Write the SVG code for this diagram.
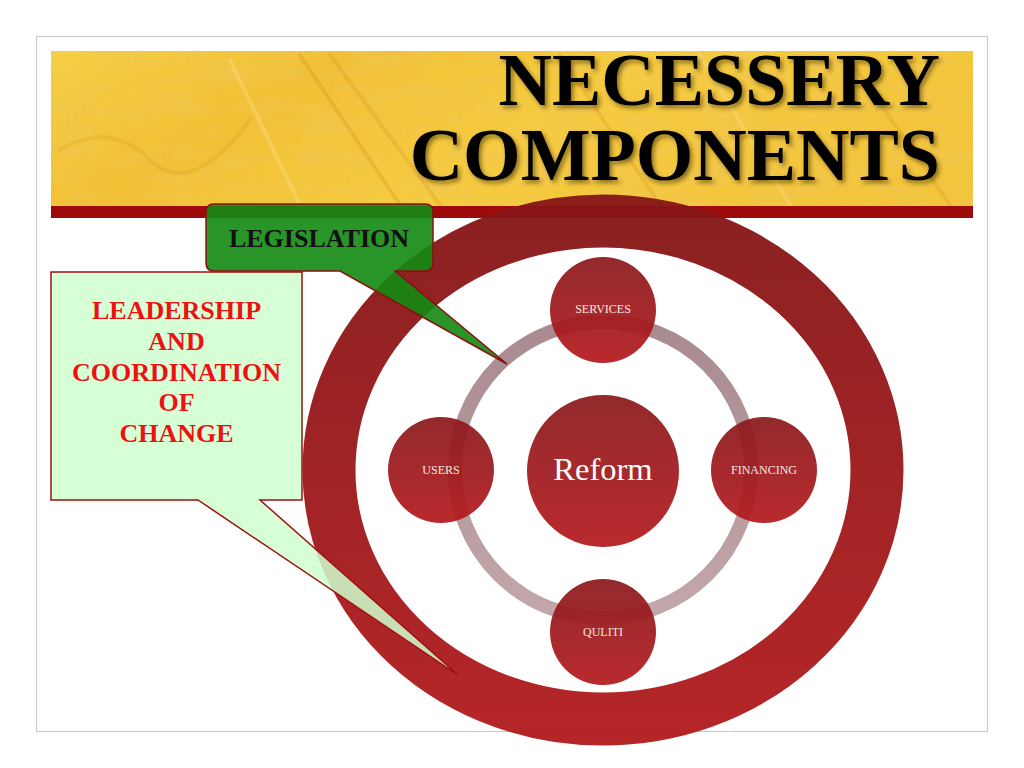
<svg xmlns="http://www.w3.org/2000/svg" width="1024" height="768" viewBox="0 0 1024 768">
  <defs>
    <style>
      .title { font-family: "Liberation Serif", "Times New Roman", serif; font-weight: bold; font-size: 74px; fill: #000; text-anchor: end; }
      .lead { font-family: "Liberation Serif", "Times New Roman", serif; font-weight: bold; font-size: 26px; fill: #ee1111; text-anchor: middle; }
      .leg { font-family: "Liberation Serif", "Times New Roman", serif; font-weight: bold; font-size: 26px; fill: #111; text-anchor: middle; }
      .small { font-family: "Liberation Serif", "Times New Roman", serif; font-size: 12px; fill: #f6e8e0; text-anchor: middle; }
      .big { font-family: "Liberation Serif", "Times New Roman", serif; font-size: 32.5px; fill: #ffffff; text-anchor: middle; }
      .node { fill: url(#nodeGrad); fill-opacity: 0.93; }
    </style>
    <linearGradient id="gold" x1="0" y1="0" x2="1" y2="0.3">
      <stop offset="0" stop-color="#f6cc3e"/>
      <stop offset="0.3" stop-color="#f0bc2c"/>
      <stop offset="0.6" stop-color="#f5c838"/>
      <stop offset="1" stop-color="#f2c234"/>
    </linearGradient>
    <filter id="tex" x="0" y="0" width="1" height="1">
      <feTurbulence type="fractalNoise" baseFrequency="0.02 0.06" numOctaves="3" seed="7" result="n"/>
      <feColorMatrix in="n" type="matrix" values="0 0 0 0 0.86  0 0 0 0 0.55  0 0 0 0 0.08  0 0 0 1.8 -0.75" result="c"/>
      <feComposite in="c" in2="SourceGraphic" operator="in"/>
    </filter>
    <filter id="grain" x="0" y="0" width="1" height="1">
      <feTurbulence type="fractalNoise" baseFrequency="0.9" numOctaves="1" seed="2" result="g"/>
      <feColorMatrix in="g" type="matrix" values="0 0 0 0 1  0 0 0 0 0.92  0 0 0 0 0.45  0 0 0 0.5 -0.1" result="gc"/>
      <feComposite in="gc" in2="SourceGraphic" operator="in"/>
    </filter>
    <filter id="shadow" x="-5%" y="-10%" width="110%" height="130%">
      <feDropShadow dx="2.5" dy="3" stdDeviation="2" flood-color="#3a2a00" flood-opacity="0.55"/>
    </filter>
    <linearGradient id="ringGrad" x1="0" y1="0" x2="0" y2="1">
      <stop offset="0" stop-color="#861516"/>
      <stop offset="1" stop-color="#b01a1c"/>
    </linearGradient>
    <linearGradient id="nodeGrad" x1="0" y1="0" x2="0" y2="1">
      <stop offset="0" stop-color="#8a191c"/>
      <stop offset="1" stop-color="#b41a1e"/>
    </linearGradient>
    <linearGradient id="grayGrad" x1="0" y1="0" x2="0" y2="1">
      <stop offset="0" stop-color="#a88a8f"/>
      <stop offset="1" stop-color="#c2a7ab"/>
    </linearGradient>
  </defs>

  <rect x="0" y="0" width="1024" height="768" fill="#ffffff"/>
  <rect x="36.5" y="36.5" width="951" height="695" fill="#ffffff" stroke="#c8c8c8" stroke-width="1"/>

  <g id="banner">
    <rect x="51" y="51" width="922" height="156" fill="url(#gold)"/>
    <rect x="51" y="51" width="922" height="156" fill="#e8a020" filter="url(#tex)" opacity="0.75"/>
    <rect x="51" y="51" width="922" height="156" fill="#fff" filter="url(#grain)" opacity="0.45"/>
    <g fill="none" stroke-width="4" stroke-linecap="round">
      <path d="M300 55 L400 205" stroke="#d8901c" stroke-opacity="0.3"/>
      <path d="M330 55 L440 205" stroke="#d8901c" stroke-opacity="0.25"/>
      <path d="M230 60 L300 205" stroke="#fbe090" stroke-opacity="0.35"/>
      <path d="M60 150 Q110 120 150 160 T250 120" stroke="#d8901c" stroke-opacity="0.2"/>
      <path d="M560 55 L660 205" stroke="#d8901c" stroke-opacity="0.25"/>
      <path d="M700 55 L790 205" stroke="#fbe090" stroke-opacity="0.3"/>
      <path d="M850 60 L950 205" stroke="#d8901c" stroke-opacity="0.25"/>
    </g>
    <rect x="51" y="206" width="922" height="12" fill="#9c0a0a"/>
    <text class="title" x="940" y="105" filter="url(#shadow)">NECESSERY</text>
    <text class="title" x="940" y="180" filter="url(#shadow)">COMPONENTS</text>
  </g>

  <g id="outer-ring">
    <ellipse cx="603" cy="470" rx="274" ry="249" fill="none" stroke="url(#ringGrad)" stroke-width="53" stroke-opacity="0.95"/>
  </g>

  <g id="connectors">
    <circle cx="603" cy="470" r="148" fill="none" stroke="url(#grayGrad)" stroke-width="14"/>
  </g>

  <g id="node-reform">
    <circle class="node" cx="603" cy="471" r="76"/>
    <text class="big" x="603" y="480">Reform</text>
  </g>
  <g id="node-services">
    <circle class="node" cx="603" cy="310" r="53"/>
    <text class="small" x="603" y="313">SERVICES</text>
  </g>
  <g id="node-users">
    <circle class="node" cx="441" cy="470" r="53"/>
    <text class="small" x="441" y="474">USERS</text>
  </g>
  <g id="node-financing">
    <circle class="node" cx="764" cy="470" r="53"/>
    <text class="small" x="764" y="474">FINANCING</text>
  </g>
  <g id="node-quliti">
    <circle class="node" cx="603" cy="632" r="53"/>
    <text class="small" x="603" y="636">QULITI</text>
  </g>

  <g id="callout-legislation">
    <path d="M214 204 H425 Q433 204 433 212 V263 Q433 271 425 271 H395 L507 364 L340 271 H214 Q206 271 206 263 V212 Q206 204 214 204 Z" fill="#128a12" fill-opacity="0.9" stroke="#8a1010" stroke-width="1.5"/>
    <text class="leg" x="319" y="247">LEGISLATION</text>
  </g>

  <g id="callout-leadership">
    <path d="M51 272 H302 V500 H260 L458 675 L198 500 H51 Z" fill="#cfffcf" fill-opacity="0.85" stroke="#a01010" stroke-width="1.5"/>
    <text class="lead" x="176.5" y="319">LEADERSHIP</text>
    <text class="lead" x="176.5" y="350">AND</text>
    <text class="lead" x="176.5" y="381">COORDINATION</text>
    <text class="lead" x="176.5" y="411">OF</text>
    <text class="lead" x="176.5" y="442">CHANGE</text>
  </g>
</svg>
